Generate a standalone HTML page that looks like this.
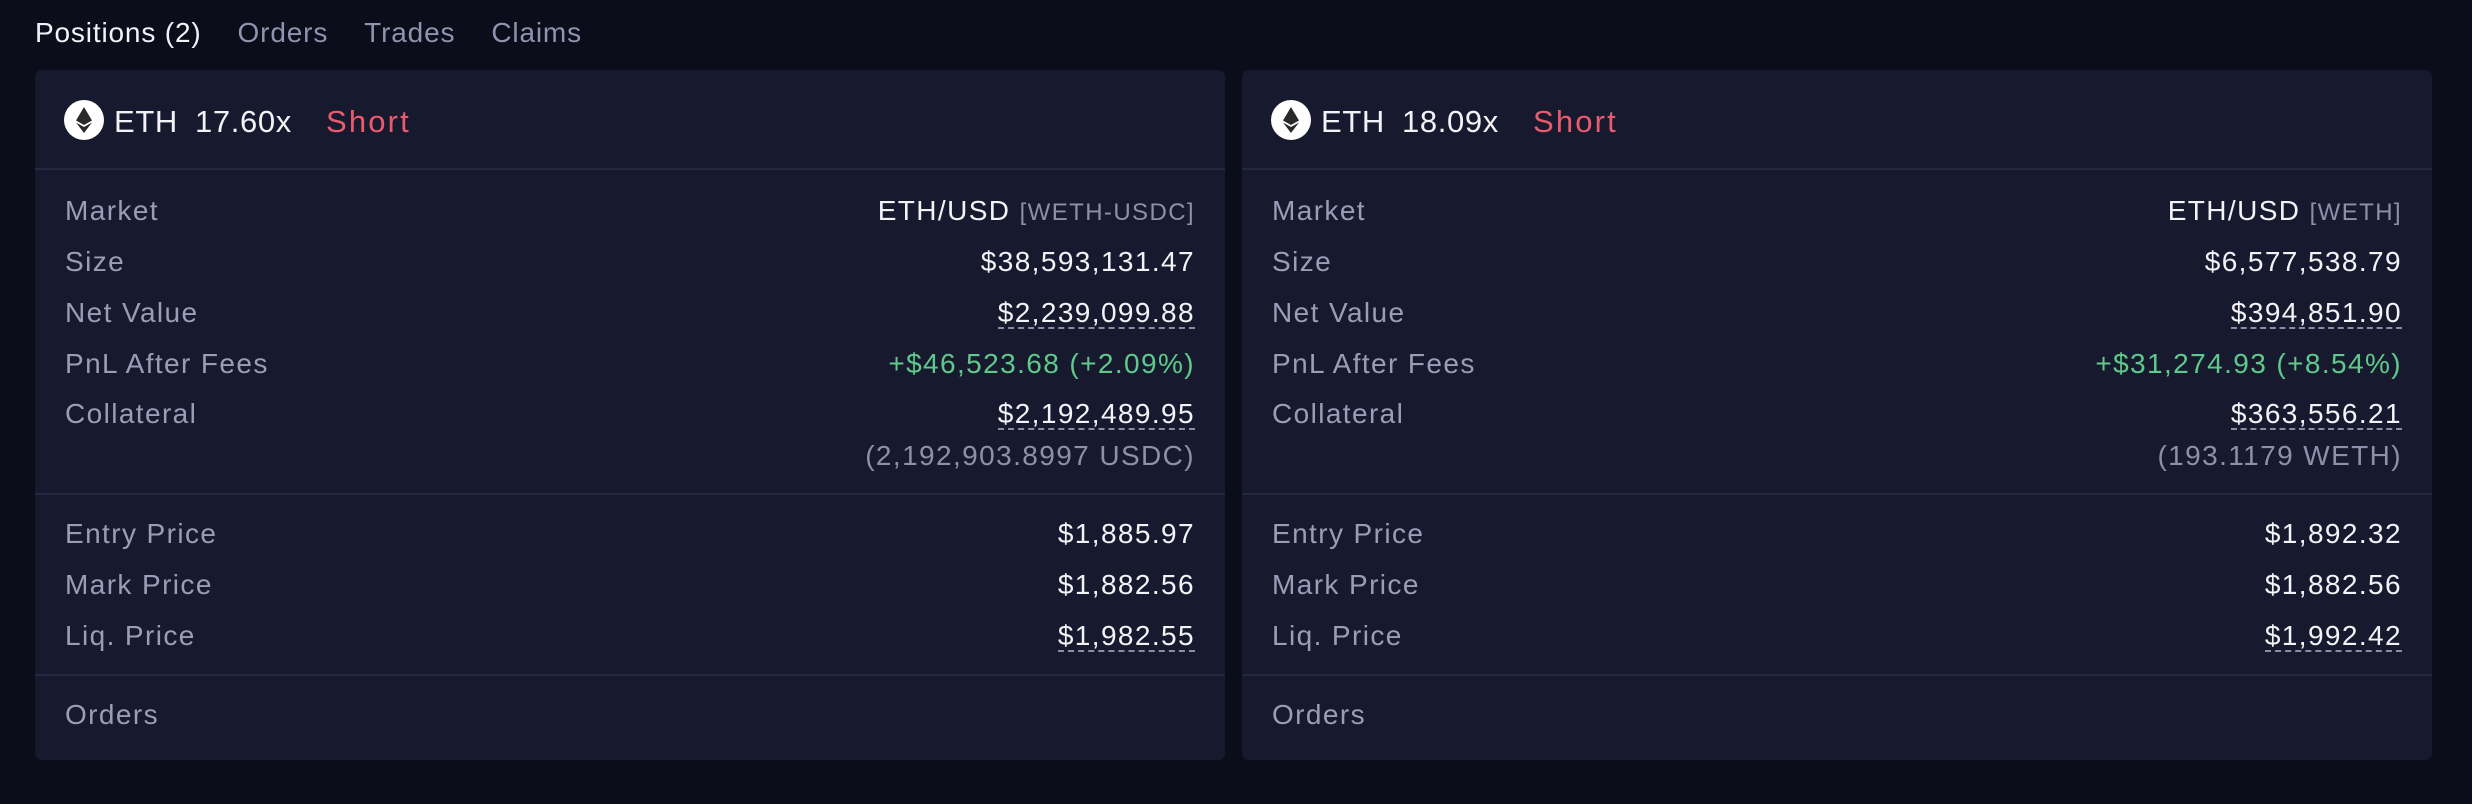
<!DOCTYPE html>
<html><head><meta charset="utf-8"><style>
*{margin:0;padding:0;box-sizing:border-box}
body{width:2472px;height:804px;background:#0b0d1b;font-family:"Liberation Sans",sans-serif;overflow:hidden;position:relative;letter-spacing:0.04em}
.tabs{position:absolute;left:35px;top:17px;font-size:28px;color:#8f93ad;letter-spacing:0.03em}
.tabs span{margin-right:36px}
.tabs .a{color:#f2f2f7}
.card{position:absolute;top:70px;width:1190px;height:690px;background:#171a2e;border-radius:7px}
.hd{position:absolute;left:0;top:0;height:100px;width:100%;border-bottom:2px solid #242840}
.ico{position:absolute;left:29px;top:30px;width:40px;height:40px;border-radius:50%;background:#fff}
.ico svg{position:absolute;left:0;top:0}
.ht{position:absolute;top:34px;font-size:31px;color:#f2f2f7}
.short{color:#ea5a6d;letter-spacing:0.07em}
.row{position:absolute;left:30px;right:30px;font-size:28px;color:#9a9db8;height:34px;line-height:34px;letter-spacing:0.05em}
.row .v{position:absolute;right:0;top:0;color:#f2f2f7}
.u{border-bottom:2px dashed #8a8da5;line-height:28px;display:inline-block}
.g{color:#5ec98a!important}
.s{color:#8d90ab!important}
.br{color:#8d90ab}
.dv{position:absolute;left:0;width:100%;height:2px;background:#242840}
</style></head><body>
<div class="tabs"><span class="a">Positions (2)</span><span>Orders</span><span>Trades</span><span>Claims</span></div>

<div class="card" style="left:35px">
 <div class="hd">
  <div class="ico"><svg width="40" height="40" viewBox="0 0 40 40"><polygon points="20,7 12,20.5 20,25 28,20.5" fill="#2a2a2a"/><polygon points="12,22.5 20,33 28,22.5 20,27" fill="#2a2a2a"/></svg></div>
  <div class="ht" style="left:79px">ETH</div>
  <div class="ht" style="left:160px">17.60x</div>
  <div class="ht short" style="left:291px">Short</div>
 </div>
 <div class="row" style="top:124px">Market<span class="v">ETH/USD <span class="br" style="font-size:24px">[WETH-USDC]</span></span></div>
 <div class="row" style="top:175px">Size<span class="v">$38,593,131.47</span></div>
 <div class="row" style="top:226px">Net Value<span class="v"><span class="u">$2,239,099.88</span></span></div>
 <div class="row" style="top:277px">PnL After Fees<span class="v g">+$46,523.68 (+2.09%)</span></div>
 <div class="row" style="top:327px">Collateral<span class="v"><span class="u">$2,192,489.95</span></span></div>
 <div class="row" style="top:369px"><span class="v s">(2,192,903.8997 USDC)</span></div>
 <div class="dv" style="top:423px"></div>
 <div class="row" style="top:447px">Entry Price<span class="v">$1,885.97</span></div>
 <div class="row" style="top:498px">Mark Price<span class="v">$1,882.56</span></div>
 <div class="row" style="top:549px">Liq. Price<span class="v"><span class="u">$1,982.55</span></span></div>
 <div class="dv" style="top:604px"></div>
 <div class="row" style="top:628px">Orders</div>
</div>

<div class="card" style="left:1242px">
 <div class="hd">
  <div class="ico"><svg width="40" height="40" viewBox="0 0 40 40"><polygon points="20,7 12,20.5 20,25 28,20.5" fill="#2a2a2a"/><polygon points="12,22.5 20,33 28,22.5 20,27" fill="#2a2a2a"/></svg></div>
  <div class="ht" style="left:79px">ETH</div>
  <div class="ht" style="left:160px">18.09x</div>
  <div class="ht short" style="left:291px">Short</div>
 </div>
 <div class="row" style="top:124px">Market<span class="v">ETH/USD <span class="br" style="font-size:24px">[WETH]</span></span></div>
 <div class="row" style="top:175px">Size<span class="v">$6,577,538.79</span></div>
 <div class="row" style="top:226px">Net Value<span class="v"><span class="u">$394,851.90</span></span></div>
 <div class="row" style="top:277px">PnL After Fees<span class="v g">+$31,274.93 (+8.54%)</span></div>
 <div class="row" style="top:327px">Collateral<span class="v"><span class="u">$363,556.21</span></span></div>
 <div class="row" style="top:369px"><span class="v s">(193.1179 WETH)</span></div>
 <div class="dv" style="top:423px"></div>
 <div class="row" style="top:447px">Entry Price<span class="v">$1,892.32</span></div>
 <div class="row" style="top:498px">Mark Price<span class="v">$1,882.56</span></div>
 <div class="row" style="top:549px">Liq. Price<span class="v"><span class="u">$1,992.42</span></span></div>
 <div class="dv" style="top:604px"></div>
 <div class="row" style="top:628px">Orders</div>
</div>
</body></html>
